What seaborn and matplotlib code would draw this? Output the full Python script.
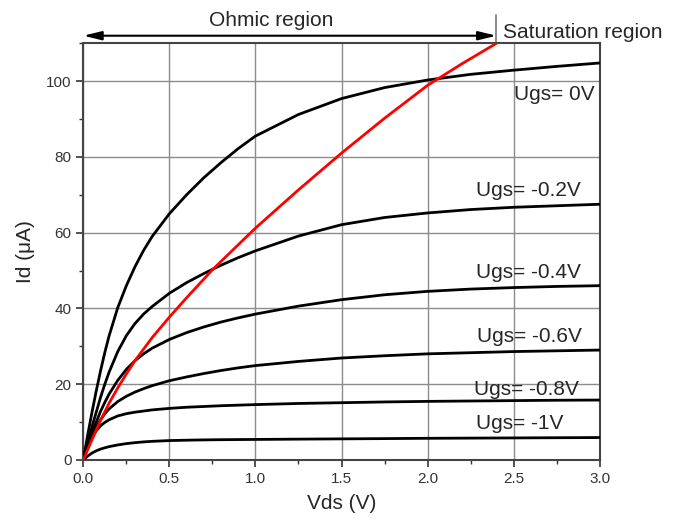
import numpy as np
import pandas as pd
import matplotlib.pyplot as plt
import seaborn as sns

sns.set_theme(style="ticks")
plt.rcParams["font.family"] = ["Liberation Sans", "DejaVu Sans"]

# 출력 특성 곡선 데이터
vds = [0, 0.025, 0.05, 0.075, 0.1, 0.125, 0.15, 0.2, 0.25, 0.3, 0.35, 0.4, 0.5,
       0.6, 0.7, 0.8, 0.9, 1.0, 1.25, 1.5, 1.75, 2.0, 2.25, 2.5, 2.75, 3.0]
id_0v = [0, 6.5, 12.5, 18.2, 23.5, 28.4, 32.8, 40.2, 46, 51, 55.3, 59, 65,
         70, 74.5, 78.5, 82.2, 85.5, 91.2, 95.4, 98.3, 100.3, 101.8, 102.9, 103.9, 104.8]
id_m02 = [0, 4.5, 8.7, 12.6, 16.5, 20, 23.2, 28.6, 32.8, 36, 38.5, 40.5, 44,
          46.8, 49.2, 51.4, 53.4, 55.2, 59.1, 62.1, 64.0, 65.2, 66.1, 66.7, 67.1, 67.5]
id_m04 = [0, 3.6, 7, 10, 12.8, 15.2, 17.4, 21, 23.9, 26.2, 28, 29.5, 31.8,
          33.6, 35.1, 36.4, 37.5, 38.5, 40.6, 42.3, 43.6, 44.5, 45.1, 45.5, 45.8, 46.0]
id_m06 = [0, 3.2, 6.1, 8.6, 10.6, 12.2, 13.5, 15.4, 16.8, 17.9, 18.8, 19.6, 20.9,
          21.9, 22.8, 23.6, 24.3, 24.9, 26.0, 26.9, 27.5, 28.0, 28.3, 28.6, 28.8, 29.0]
id_m08 = [0, 3.2, 5.8, 7.7, 9.0, 9.9, 10.6, 11.6, 12.2, 12.6, 12.9, 13.2, 13.6,
          13.9, 14.1, 14.3, 14.45, 14.6, 14.9, 15.1, 15.3, 15.45, 15.55, 15.65, 15.75, 15.8]
id_m10 = [0, 1.0, 1.8, 2.4, 2.85, 3.2, 3.5, 3.95, 4.3, 4.55, 4.75, 4.9, 5.1,
          5.2, 5.28, 5.33, 5.37, 5.4, 5.48, 5.55, 5.62, 5.7, 5.75, 5.8, 5.85, 5.9]

# 포화 경계 (빨간 선)
vds_sat = [0, 0.05, 0.1, 0.15, 0.2, 0.25, 0.3, 0.4, 0.5, 0.6, 0.75, 1.0,
           1.25, 1.5, 1.75, 2.0, 2.2, 2.4]
id_sat = [0, 5.3, 10.4, 15, 19, 22.7, 26.2, 32.3, 37.7, 42.8, 50.2, 61.2,
          71.3, 81, 90.2, 98.9, 104.6, 110]

ugs_labels = ["Ugs= 0V", "Ugs= -0.2V", "Ugs= -0.4V", "Ugs= -0.6V", "Ugs= -0.8V", "Ugs= -1V"]

df = pd.DataFrame({
    "Vds": vds,
    ugs_labels[0]: id_0v,
    ugs_labels[1]: id_m02,
    ugs_labels[2]: id_m04,
    ugs_labels[3]: id_m06,
    ugs_labels[4]: id_m08,
    ugs_labels[5]: id_m10,
})
df = df.melt(id_vars="Vds", var_name="Ugs", value_name="Id")

fig = plt.figure(figsize=(6.83, 5.28), dpi=100)
ax = fig.add_axes([0.122, 0.129, 0.756, 0.789])

sns.lineplot(data=df, x="Vds", y="Id", units="Ugs", estimator=None, sort=False,
             color="black", lw=2.0, ax=ax, zorder=3, solid_joinstyle="round")
sns.lineplot(x=vds_sat, y=id_sat, color="red", lw=2.0, ax=ax, sort=False, zorder=4,
             solid_joinstyle="round")

ax.set_xlim(0, 3.0)
ax.set_ylim(0, 110)
ax.set_xticks(np.arange(0, 3.01, 0.5))
ax.set_xticks(np.arange(0, 3.01, 0.25), minor=True)
ax.set_yticks(np.arange(0, 101, 20))
ax.set_yticks(np.arange(0, 111, 10), minor=True)
ax.set_xticklabels([f"{v:.1f}" for v in np.arange(0, 3.01, 0.5)])
ax.grid(True, which="major", color="#8c8c8c", lw=1.0)
ax.tick_params(which="major", direction="out", length=5, width=1.2, labelsize=11, colors="#333333")
ax.tick_params(which="minor", direction="out", length=3, width=1.0, colors="#333333")
for s in ax.spines.values():
    s.set_color("#444444")
    s.set_linewidth(1.5)

ax.set_xlabel("Vds (V)", fontsize=15, labelpad=6)
ax.set_ylabel("Id (μA)", fontsize=15, labelpad=8)

# 곡선 라벨
label_pos = [(2.5, 95), (2.28, 69.7), (2.28, 48.1), (2.29, 31.2), (2.27, 17.2), (2.28, 8.1)]
for lab, (lx, ly) in zip(ugs_labels, label_pos):
    ax.text(lx, ly, lab, fontsize=15, ha="left", va="baseline", zorder=5)

# 영역 표시
ax.annotate("", xy=(0, 112), xytext=(2.4, 112), annotation_clip=False,
            arrowprops=dict(arrowstyle="<|-|>,head_length=0.9,head_width=0.22",
                            color="black", lw=1.5, shrinkA=0, shrinkB=0))
ax.plot([2.4, 2.4], [110, 117.5], color="#777777", lw=1.2, clip_on=False)
ax.text(1.09, 114.5, "Ohmic region", fontsize=15, ha="center", va="baseline")
ax.text(2.44, 111.5, "Saturation region", fontsize=15, ha="left", va="baseline")

plt.savefig("out.png", dpi=100)
